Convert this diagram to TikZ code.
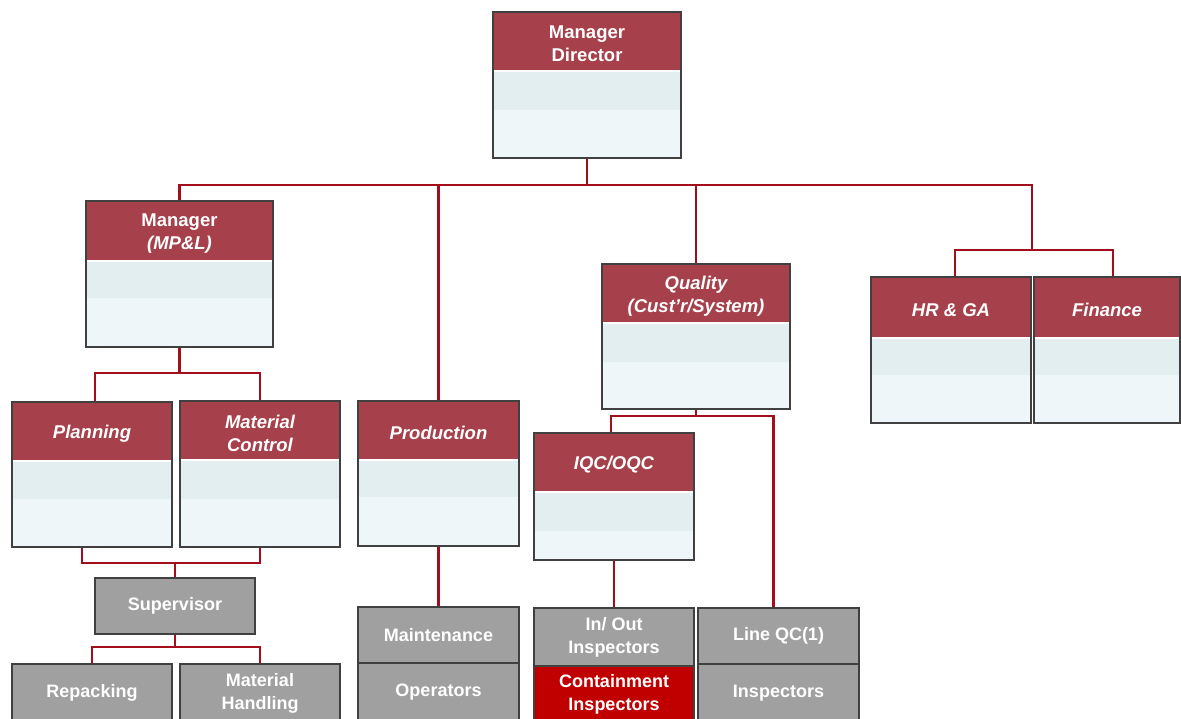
\documentclass[tikz,border=0pt]{standalone}
\usepackage{fontspec}
\setmainfont{Liberation Sans}
\definecolor{hdrred}{HTML}{A6404B}
\definecolor{bandA}{HTML}{E3EEF1}
\definecolor{bandB}{HTML}{EFF6F9}
\definecolor{framec}{HTML}{404040}
\definecolor{connred}{HTML}{A30D1C}
\definecolor{boxgray}{HTML}{A0A0A0}
\definecolor{contred}{HTML}{C00000}
\newcommand{\orgbox}[8]{%
  \fill[bandA] (#2,#6) rectangle (#4,#7);
  \fill[bandB] (#2,#7) rectangle (#4,#5);
  \fill[hdrred] (#2,#3) rectangle (#4,#6);
  \draw[white, line width=1.2pt] (#2,#6+1) -- (#4,#6+1);
  \node[txt] (#1-h) at ({(#2+#4)/2},{(#3+#6)/2+3}) {#8};
  \node[framebox, minimum width={#4-#2}, minimum height={#5-#3}] (#1) at ({(#2+#4)/2},{(#3+#5)/2}) {};
}
\begin{document}
\begin{tikzpicture}[x=1pt,y=-1pt,
  txt/.style={text=white, font=\fontsize{18.5}{23}\selectfont\bfseries, align=center, inner sep=0pt},
  framebox/.style={draw=framec, line width=1.3pt, inner sep=0pt},
  gbox/.style={fill=boxgray, draw=framec, line width=1.3pt, text=white, font=\fontsize{18}{23}\selectfont\bfseries, align=center, inner sep=0pt},
  rbox/.style={gbox, fill=contred},
  conn/.style={draw=connred, line width=2.2pt}]
\useasboundingbox (0,0) rectangle (1181,718);
\clip (0,0) rectangle (1181,718);
\fill[white] (0,0) rectangle (1181,718);

% red-header boxes
\orgbox{md}{493}{12}{681}{158}{70}{110}{Manager\\Director}
\orgbox{mpl}{86}{201}{273}{347}{260}{298}{Manager\\\itshape (MP\&L)}
\orgbox{plan}{12}{402}{172}{547}{460}{499}{\itshape Planning}
\orgbox{mc}{180}{401}{340}{547}{459}{499}{\itshape Material\\\itshape Control}
\orgbox{prod}{358}{401}{519}{546}{459}{497}{\itshape Production}
\orgbox{qual}{602}{264}{790}{409}{322}{362}{\itshape Quality\\\itshape (Cust’r/System)}
\orgbox{iqc}{534}{433}{694}{560}{491}{531}{\itshape IQC/OQC}
\orgbox{hr}{871}{277}{1031}{423}{337}{375}{\itshape HR \& GA}
\orgbox{fin}{1034}{277}{1180}{423}{337}{375}{\itshape Finance}

% gray boxes
\node[gbox, minimum width=160, minimum height=56] (sup) at (175,606) {Supervisor};
\node[gbox, minimum width=160, minimum height=58] (rep) at (92,693) {Repacking};
\node[gbox, minimum width=160, minimum height=58] (mh) at (260,693) {Material\\Handling};
\node[gbox, minimum width=161, minimum height=56] (mnt) at (438.5,635) {Maintenance};
\node[gbox, minimum width=161, minimum height=59] (ops) at (438.5,692.5) {Operators};
\node[gbox, minimum width=160, minimum height=58] (io) at (614,637) {In/ Out\\Inspectors};
\node[rbox, minimum width=160, minimum height=56] (cont) at (614,694) {Containment\\Inspectors};
\node[gbox, minimum width=161, minimum height=56] (lqc) at (778.5,636) {Line QC(1)};
\node[gbox, minimum width=161, minimum height=58] (insp) at (778.5,693) {Inspectors};

% connectors
\coordinate (bus) at (587,185);
\coordinate (hrbus) at (1032,250);
\draw[conn] (md.south) -- (bus);
\draw[conn] (bus) -| (mpl.north);
\draw[conn] (bus) -| (prod.north);
\draw[conn] (bus) -| (qual.north);
\draw[conn] (bus) -| (hrbus);
\draw[conn] (hrbus) -| ([xshift=4pt]hr.north);
\draw[conn] (hrbus) -| ([xshift=6pt]fin.north);

\coordinate (mplbus) at (179.5,373);
\draw[conn] (mpl.south) -- (mplbus);
\draw[conn] (mplbus) -| ([xshift=3pt]plan.north);
\draw[conn] (mplbus) -| (mc.north);

\coordinate (pbus) at (175,563);
\draw[conn] ([xshift=-10pt]plan.south) |- (pbus) -| (mc.south);
\draw[conn] (pbus) -- (sup.north);

\coordinate (sbus) at (175,647);
\draw[conn] (sup.south) -- (sbus);
\draw[conn] (sbus) -| (rep.north);
\draw[conn] (sbus) -| (mh.north);

\draw[conn] (prod.south) -- (mnt.north);

\coordinate (qbus) at (696,416);
\draw[conn] (qual.south) -- (qbus);
\draw[conn] (qbus) -| ([xshift=-3pt]iqc.north);
\draw[conn] (qbus) -| ([xshift=-5pt]lqc.north);
\draw[conn] (iqc.south) -- (io.north);
\end{tikzpicture}
\end{document}
